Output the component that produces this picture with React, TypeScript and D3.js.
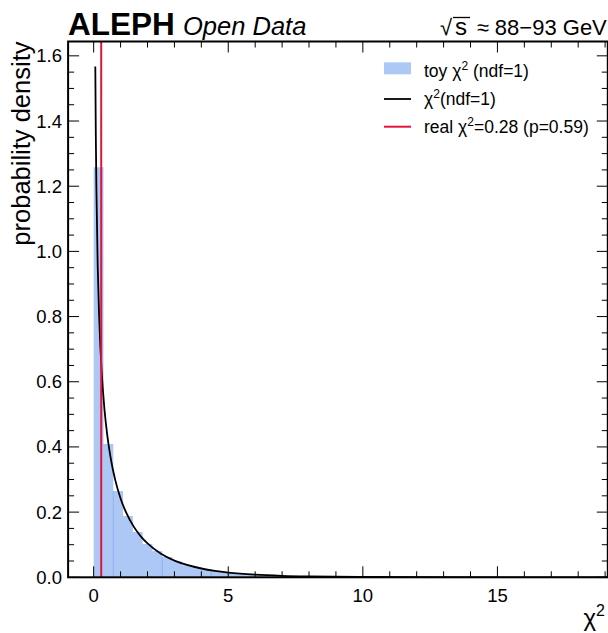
import React from "react";
import * as d3 from "d3";

// ---- data ----
const binWidth = 0.364;
const histHeights = [
  1.258, 0.409, 0.265, 0.188, 0.139, 0.102, 0.081, 0.062, 0.049, 0.037,
  0.031, 0.024, 0.019, 0.016, 0.012, 0.010, 0.008, 0.0065, 0.0052, 0.0043,
  0.0036, 0.0028, 0.0024, 0.0018, 0.0016, 0.0012, 0.001, 0.0008, 0.0007, 0.0005,
  0.0005, 0.0003, 0.0003, 0.0002, 0.0002, 0.0001, 0.0001, 0.0001, 0.0001, 0,
  0.0001, 0, 0, 0, 0, 0, 0, 0, 0, 0.0001,
];
const seamEdges = [2, 7, 12];
const curveX = [
  0.061, 0.08, 0.1, 0.15, 0.2, 0.25, 0.3, 0.4, 0.5, 0.6, 0.7, 0.8, 1.0, 1.2, 1.5,
  1.75, 2.0, 2.5, 3.0, 3.5, 4.0, 4.5, 5.0, 6.0, 7.0, 8.0, 10.0, 12.0, 15.0, 18.0, 19.1,
];
const curveY = [
  1.567, 1.355, 1.2, 0.9556, 0.8071, 0.7041, 0.6269, 0.5165, 0.4394, 0.3815, 0.336,
  0.299, 0.242, 0.1999, 0.1539, 0.1257, 0.1038, 0.0723, 0.0514, 0.03706, 0.027,
  0.01982, 0.01465, 0.00811, 0.00455, 0.00258, 0.00085, 0.000285, 0.000057,
  0.0000116, 0.000006,
];
const realChi2 = 0.28;
const xMajorTicks = [0, 5, 10, 15];
const yMajorTicks = [0, 0.2, 0.4, 0.6, 0.8, 1.0, 1.2, 1.4, 1.6];
const legendLabels = ["toy", "(ndf=1)", "real", "=0.28 (p=0.59)"];

// ---- layout ----
const W = 608;
const H = 633;
const L = 68.1;
const R = 607.8;
const T = 41.5;
const B = 577.3;
const FONT = "'Liberation Sans', Arial, Helvetica, sans-serif";
const BLUE = "#6495ed";
const RED = "#e0143c";

export default function App() {
  const x = d3.scaleLinear().domain([-0.95, 19.1]).range([L, R]);
  const y = d3.scaleLinear().domain([0, 1.644]).range([B, T]);

  const xMinor = d3.range(0, 20).filter((v) => !xMajorTicks.includes(v));
  const yMinor = d3
    .range(0, 33)
    .map((i) => +(i * 0.05).toFixed(2))
    .filter((v) => Math.abs(v * 5 - Math.round(v * 5)) > 1e-6);

  const line = d3
    .line<number>()
    .x((_, i) => x(curveX[i]))
    .y((d) => y(d))
    .curve(d3.curveMonotoneX);

  const histPts = histHeights.map((h, i) => [i * binWidth, h] as [number, number]);
  histPts.push([histHeights.length * binWidth, histHeights[histHeights.length - 1]]);
  const area = d3
    .area<[number, number]>()
    .x((d) => x(d[0]))
    .y0(B)
    .y1((d) => y(d[1]))
    .curve(d3.curveStepAfter);

  const MAJ = 11;
  const MIN = 6;

  return (
    <svg
      width={W}
      height={H}
      style={{ position: "absolute", left: 0, top: 0, background: "#fff" }}
      fontFamily={FONT}
    >
      <defs>
        <clipPath id="plot">
          <rect x={L} y={T} width={R - L} height={B - T} />
        </clipPath>
      </defs>

      {/* histogram */}
      <g clipPath="url(#plot)">
        <path d={area(histPts) || ""} fill={BLUE} fillOpacity={0.52} />
        {seamEdges.map((k) => (
          <line
            key={"s" + k}
            x1={x(k * binWidth)}
            x2={x(k * binWidth)}
            y1={B}
            y2={y(Math.min(histHeights[k - 1], histHeights[k]))}
            stroke={BLUE}
            strokeOpacity={0.45}
            strokeWidth={1}
          />
        ))}
        <path d={line(curveY) || ""} fill="none" stroke="#000" strokeWidth={1.8} />
        <line
          x1={x(realChi2)}
          x2={x(realChi2)}
          y1={T}
          y2={B}
          stroke={RED}
          strokeWidth={2}
        />
      </g>

      {/* ticks */}
      <g stroke="#000" strokeWidth={1}>
        {xMajorTicks.map((v) => (
          <g key={"xm" + v}>
            <line x1={x(v)} x2={x(v)} y1={B} y2={B - MAJ} />
            <line x1={x(v)} x2={x(v)} y1={T} y2={T + MAJ} />
          </g>
        ))}
        {xMinor.map((v) => (
          <g key={"xn" + v}>
            <line x1={x(v)} x2={x(v)} y1={B} y2={B - MIN} />
            <line x1={x(v)} x2={x(v)} y1={T} y2={T + MIN} />
          </g>
        ))}
        {yMajorTicks.map((v) => (
          <g key={"ym" + v}>
            <line x1={L} x2={L + MAJ} y1={y(v)} y2={y(v)} />
            <line x1={R} x2={R - MAJ} y1={y(v)} y2={y(v)} />
          </g>
        ))}
        {yMinor.map((v) => (
          <g key={"yn" + v}>
            <line x1={L} x2={L + MIN} y1={y(v)} y2={y(v)} />
            <line x1={R} x2={R - MIN} y1={y(v)} y2={y(v)} />
          </g>
        ))}
      </g>

      {/* frame */}
      <rect x={L} y={T} width={R - L} height={B - T} fill="none" stroke="#000" strokeWidth={2} />

      {/* tick labels */}
      <g fontSize={18.5} fill="#000">
        {xMajorTicks.map((v) => (
          <text key={"xl" + v} x={x(v)} y={602} textAnchor="middle">
            {v}
          </text>
        ))}
        {yMajorTicks.map((v) => (
          <text key={"yl" + v} x={62} y={y(v) + 6.5} textAnchor="end">
            {v.toFixed(1)}
          </text>
        ))}
      </g>

      {/* axis labels */}
      <text
        transform={`translate(30,${T}) rotate(-90)`}
        textAnchor="end"
        fontSize={25.5}
      >
        probability density
      </text>
      <text x={605} y={626} textAnchor="end" fontSize={24}>
        χ<tspan fontSize={16} dy={-10}>2</tspan>
      </text>

      {/* title */}
      <text x={68} y={35} fontSize={31.5} fontWeight="bold">
        ALEPH
      </text>
      <text x={183} y={35} fontSize={25.5} fontStyle="italic">
        Open Data
      </text>
      <text x={440} y={35} fontSize={22}>
        √
      </text>
      <line x1={453} x2={470} y1={17.5} y2={17.5} stroke="#000" strokeWidth={1.3} />
      <text x={455} y={35} fontSize={24}>
        s
      </text>
      <text x={R - 1} y={35} fontSize={22} textAnchor="end">
        ≈ 88−93 GeV
      </text>

      {/* legend */}
      <g fontSize={17.5}>
        <rect x={384} y={62.3} width={27} height={12} fill={BLUE} fillOpacity={0.52} />
        <text x={424} y={76.5}>
          {legendLabels[0]} χ<tspan fontSize={12} dy={-7}>2</tspan>
          <tspan dy={7}> {legendLabels[1]}</tspan>
        </text>
        <line x1={384} x2={411} y1={99} y2={99} stroke="#000" strokeWidth={1.8} />
        <text x={424} y={105}>
          χ<tspan fontSize={12} dy={-7}>2</tspan>
          <tspan dy={7}>{legendLabels[1]}</tspan>
        </text>
        <line x1={384} x2={411} y1={126.7} y2={126.7} stroke={RED} strokeWidth={2} />
        <text x={424} y={133}>
          {legendLabels[2]} χ<tspan fontSize={12} dy={-7}>2</tspan>
          <tspan dy={7}>{legendLabels[3]}</tspan>
        </text>
      </g>
    </svg>
  );
}
